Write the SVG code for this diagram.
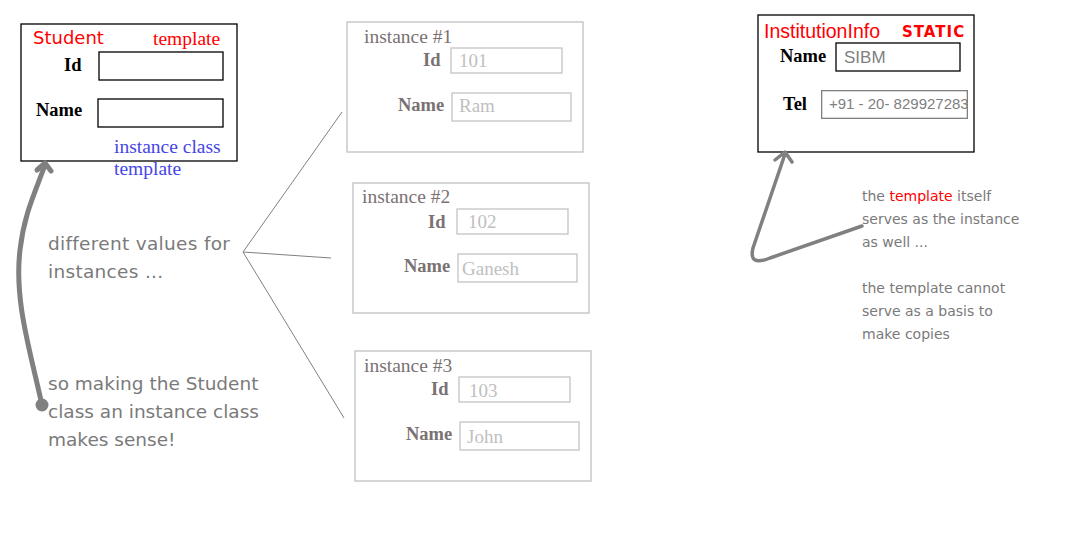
<svg xmlns="http://www.w3.org/2000/svg" width="1067" height="536" viewBox="0 0 1067 536">
<defs>
<style>
.box{fill:#fff;stroke:#000;stroke-width:1.3}
.ibox{fill:#fff;stroke:#c0c0c0;stroke-width:1.3}
.inp{fill:#fff;stroke:#000;stroke-width:1.3}
.iinp{fill:#fff;stroke:#c4c4c4;stroke-width:1.3}
.serif{font-family:"Liberation Serif",serif;font-size:19.5px}
.lab{font-family:"Liberation Serif",serif;font-size:18.5px;font-weight:bold;fill:#000}
.ilab{font-family:"Liberation Serif",serif;font-size:18.5px;font-weight:bold;fill:#7a7272}
.ihead{font-family:"Liberation Serif",serif;font-size:19.5px;fill:#7a7272}
.val{font-family:"Liberation Serif",serif;font-size:19px;fill:#c0c0c0}
.hand{font-family:"DejaVu Sans","Liberation Sans",sans-serif;fill:#7a7a7a}
.red{fill:#ff0000}
.blue{fill:#4646e6}
.conn{fill:none;stroke:#808080}
</style>
</defs>
<rect width="1067" height="536" fill="#fff"/>

<g id="student">
<rect class="box" x="21" y="24" width="216" height="137"/>
<text x="33" y="44" class="hand red" font-size="18">Student</text>
<text x="153" y="45" class="serif red">template</text>
<text x="64" y="71" class="lab">Id</text>
<rect class="inp" x="99" y="52" width="124" height="28"/>
<text x="36" y="116" class="lab">Name</text>
<rect class="inp" x="98" y="99" width="125" height="28"/>
<text x="114" y="153" class="serif blue">instance class</text>
<text x="114" y="175" class="serif blue">template</text>
</g>

<g id="instance1">
<rect class="ibox" x="347" y="22" width="236" height="130"/>
<text x="364" y="43" class="ihead">instance #1</text>
<text x="423" y="66" class="ilab">Id</text>
<rect class="iinp" x="451" y="48" width="111" height="25"/>
<text x="459" y="67" class="val">101</text>
<text x="398" y="111" class="ilab">Name</text>
<rect class="iinp" x="452" y="93" width="119" height="28"/>
<text x="459" y="112" class="val">Ram</text>
</g>

<g id="instance2">
<rect class="ibox" x="353" y="183" width="236" height="130"/>
<text x="362" y="203" class="ihead">instance #2</text>
<text x="428" y="228" class="ilab">Id</text>
<rect class="iinp" x="457" y="209" width="111" height="25"/>
<text x="468" y="228" class="val">102</text>
<text x="404" y="272" class="ilab">Name</text>
<rect class="iinp" x="458" y="254" width="119" height="28"/>
<text x="462" y="275" class="val">Ganesh</text>
</g>

<g id="instance3">
<rect class="ibox" x="355" y="351" width="236" height="130"/>
<text x="364" y="372" class="ihead">instance #3</text>
<text x="431" y="395" class="ilab">Id</text>
<rect class="iinp" x="459" y="377" width="111" height="25"/>
<text x="469" y="397" class="val">103</text>
<text x="406" y="440" class="ilab">Name</text>
<rect class="iinp" x="460" y="422" width="119" height="28"/>
<text x="467" y="443" class="val">John</text>
</g>

<g id="institution">
<rect class="box" x="758" y="15" width="216" height="137"/>
<text x="764" y="38" font-family="'Liberation Sans',sans-serif" font-size="19.5" class="red">InstitutionInfo</text>
<text x="902" y="37" class="hand red" font-size="15" font-weight="bold" letter-spacing="1">STATIC</text>
<text x="780" y="62" class="lab">Name</text>
<rect class="inp" x="836" y="43" width="124" height="28"/>
<text x="844" y="63" font-family="'Liberation Sans',sans-serif" font-size="17" fill="#808080">SIBM</text>
<text x="783" y="110" class="lab">Tel</text>
<svg x="821" y="90" width="147" height="29" viewBox="0 0 147 29">
<rect x="0.65" y="0.65" width="145.7" height="27.7" fill="#fff" stroke="#808080" stroke-width="1.3"/>
<text x="8" y="18.5" font-family="'Liberation Sans',sans-serif" font-size="15" fill="#808080">+91 - 20- 829927283</text>
</svg>
</g>

<g id="notes">
<text class="hand" font-size="18.5" letter-spacing="0.3"><tspan x="48" y="250">different values for</tspan><tspan x="48" y="278">instances ...</tspan></text>
<text class="hand" font-size="18.5"><tspan x="48" y="390">so making the Student</tspan><tspan x="48" y="418">class an instance class</tspan><tspan x="48" y="446">makes sense!</tspan></text>
<text class="hand" font-size="14"><tspan x="862" y="201">the <tspan class="red">template</tspan> itself</tspan><tspan x="862" y="224">serves as the instance</tspan><tspan x="862" y="247">as well ...</tspan><tspan x="862" y="293">the template cannot</tspan><tspan x="862" y="316">serve as a basis to</tspan><tspan x="862" y="339">make copies</tspan></text>
</g>

<g id="connectors">
<path class="conn" stroke-width="1" d="M342,112 L243,252 L331,258 M243,252 L344,418"/>
<path class="conn" stroke-width="5" stroke-linecap="round" d="M42,405 C30,350 14,300 20,250 C24,215 34,195 45,165"/>
<path class="conn" stroke-width="5" stroke-linecap="round" stroke-linejoin="round" d="M37,170 L45,163 L51,171"/>
<circle cx="42" cy="405" r="6.5" fill="#808080"/>
<path class="conn" stroke-width="3.5" stroke-linecap="round" stroke-linejoin="round" d="M862,226 L770,258 C755,264 750,260 753,248 L785,154 M775,160 L785,152 L792,162"/>
</g>
</svg>
